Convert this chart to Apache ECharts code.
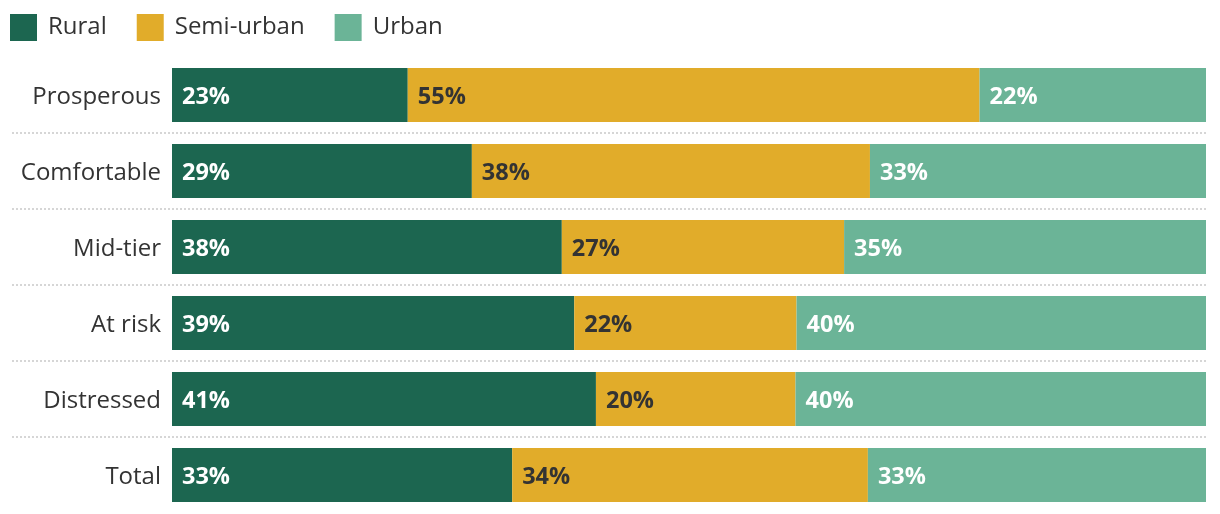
<!DOCTYPE html>
<html><head><meta charset="utf-8">
<script src="https://cdn.jsdelivr.net/npm/echarts@6/dist/echarts.min.js"></script>
<style>html,body{margin:0;padding:0;background:#fff}#c{width:1220px;height:514px}</style>
</head><body><div id="c"></div>
<script>
const categories = ['Prosperous','Comfortable','Mid-tier','At risk','Distressed','Total'];
const rural = [22.8, 29.0, 37.7, 38.9, 41.0, 32.9];
const semiUrban = [55.3, 38.5, 27.3, 21.5, 19.3, 34.4];
const urban = [21.9, 32.5, 35.0, 39.6, 39.7, 32.7];
const ruralLabels = ['23%','29%','38%','39%','41%','33%'];
const semiLabels = ['55%','38%','27%','22%','20%','34%'];
const urbanLabels = ['22%','33%','35%','40%','40%','33%'];

const FONT = '"Open Sans", "Noto Sans", sans-serif';
const chart = echarts.init(document.getElementById('c'), null, {renderer:'canvas'});
function mk(name, data, labels, color, textColor){
  return {
    name, type:'bar', stack:'s', data, barWidth:54, xAxisIndex:0, yAxisIndex:0,
    itemStyle:{color},
    label:{show:true, position:'insideLeft', distance:10, offset:[0,2], color:textColor,
      fontFamily:FONT, fontWeight:'bold', fontSize:23.5,
      formatter:p=>labels[p.dataIndex]},
    emphasis:{disabled:true}
  };
}
chart.setOption({
  animation:false,
  legend:{left:10, top:14, padding:0, itemWidth:27, itemHeight:27, itemGap:30, icon:'rect',
    textStyle:{fontFamily:FONT, fontSize:24, color:'#333', padding:[0,0,0,6]},
    data:['Rural','Semi-urban','Urban']},
  grid:[
    {left:172, right:14, top:57, bottom:1, containLabel:false},
    {left:12, right:12, top:57, bottom:1, containLabel:false}
  ],
  xAxis:[
    {type:'value', gridIndex:0, min:0, max:100, show:false},
    {type:'value', gridIndex:1, min:0, max:1, show:false}
  ],
  yAxis:[
    {type:'category', gridIndex:0, data:categories, inverse:true,
      axisLine:{show:false}, axisTick:{show:false}, splitLine:{show:false},
      axisLabel:{margin:11, formatter:v=>'{a|'+v+'}',
        rich:{a:{fontFamily:FONT, fontSize:24, color:'#333', padding:[5,0,0,0]}}}},
    {type:'category', gridIndex:1, data:categories, inverse:true,
      axisLine:{show:false}, axisTick:{show:false}, axisLabel:{show:false},
      splitLine:{show:true, showMinLine:false, showMaxLine:false,
        lineStyle:{color:'#d6d6d6', width:2, type:[2,2]}}}
  ],
  series:[
    mk('Rural', rural, ruralLabels, '#1c6650', '#ffffff'),
    mk('Semi-urban', semiUrban, semiLabels, '#e1ac2a', '#333333'),
    mk('Urban', urban, urbanLabels, '#6bb497', '#ffffff')
  ]
});
</script></body></html>
